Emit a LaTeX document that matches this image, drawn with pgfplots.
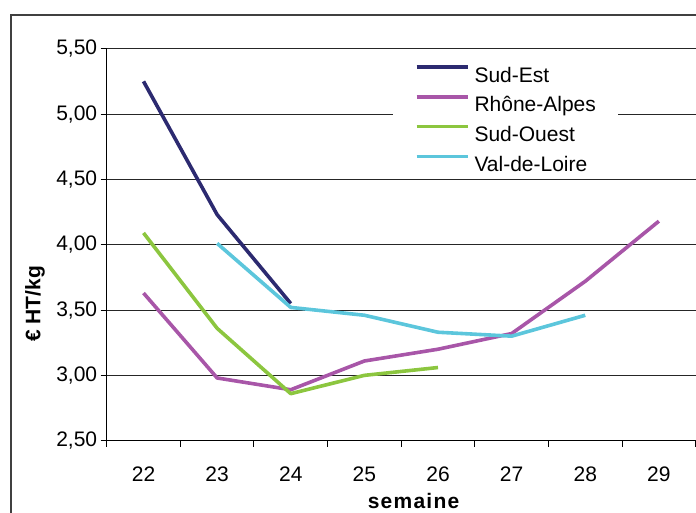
\documentclass[border=0pt]{standalone}
\usepackage{pgfplots}
\pgfplotsset{compat=1.18}
\usepackage{fontspec}
\setmainfont{Liberation Sans}

\definecolor{sudest}{RGB}{44,42,112}
\definecolor{rhone}{RGB}{168,86,168}
\definecolor{sudouest}{RGB}{140,198,63}
\definecolor{valloire}{RGB}{92,198,220}

\newcommand{\chartfont}{\fontsize{21}{25}\selectfont}

\begin{document}
\begin{tikzpicture}[x=1pt,y=1pt]
\useasboundingbox (0,0) rectangle (696,513);
% chart frame
\draw[black!75, line width=1.2pt] (11,498) rectangle (740,-30);
\begin{axis}[
  at={(106.7pt,72.3pt)}, anchor=south west,
  width=589pt, height=392pt, scale only axis,
  xmin=21.5, xmax=29.5, ymin=2.5, ymax=5.5,
  axis lines=left,
  axis line style={-, black, line width=0.9pt},
  xtick={21.5,22.5,...,29.5},
  xticklabels={22,23,24,25,26,27,28,29},
  x tick label as interval,
  ytick={2.5,3,3.5,4,4.5,5,5.5},
  /pgf/number format/.cd, use comma, fixed, fixed zerofill, precision=2, assume math mode=true,
  /pgfplots/.cd,
  ymajorgrids,
  grid style={black!85, line width=0.8pt},
  tick align=outside,
  major tick length=6pt,
  tick style={black, line width=0.9pt},
  every tick label/.append style={font=\chartfont},
  xticklabel style={yshift=-17pt},
  ylabel={\bfseries € HT/kg},
  ylabel style={at={(axis description cs:-0.1217,0.349)}, anchor=center, font=\chartfont},
  xlabel={\bfseries\addfontfeatures{LetterSpace=6}semaine},
  xlabel style={at={(axis description cs:0.521,-0.1717)}, anchor=base, font=\chartfont},
  legend style={at={(axis description cs:0.4856,0.9737)}, anchor=north west,
    draw=none, fill=white, inner xsep=22pt, inner ysep=6pt,
    font=\chartfont, row sep=13pt, column sep=5pt,
    nodes={inner sep=0pt, text height=15pt, text depth=0pt}},
  legend cell align=left,
  legend image code/.code={\draw[#1] (0pt,7.5pt) -- (51pt,7.5pt);},
  every axis plot/.append style={line width=3.6pt, line join=round},
]
\addplot[sudest] coordinates {(22,5.25) (23,4.23) (24,3.55)};
\addlegendentry{Sud-Est}
\addplot[rhone] coordinates {(22,3.63) (23,2.98) (24,2.89) (25,3.11) (26,3.20) (27,3.32) (28,3.72) (29,4.18)};
\addlegendentry{Rhône-Alpes}
\addplot[sudouest] coordinates {(22,4.09) (23,3.36) (24,2.86) (25,3.00) (26,3.06)};
\addlegendentry{Sud-Ouest}
\addplot[valloire] coordinates {(23,4.01) (24,3.52) (25,3.46) (26,3.33) (27,3.30) (28,3.46)};
\addlegendentry{Val-de-Loire}
\end{axis}
\end{tikzpicture}
\end{document}
